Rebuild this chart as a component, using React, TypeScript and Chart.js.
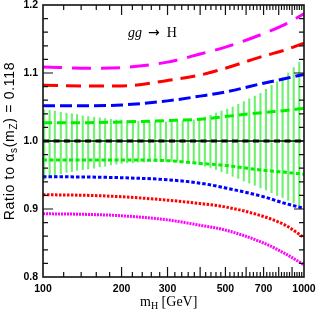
import React, { useEffect, useRef } from "react";
import { Chart, registerables } from "chart.js";
Chart.register(...registerables);

const MASS = [100, 150, 200, 300, 400, 500, 700, 850, 1000];
const MAGENTA_UP = [1.109, 1.107, 1.108, 1.116, 1.128, 1.138, 1.158, 1.172, 1.187];
const RED_UP = [1.082, 1.081, 1.081, 1.089, 1.097, 1.107, 1.125, 1.134, 1.144];
const BLUE_UP = [1.052, 1.052, 1.053, 1.059, 1.066, 1.072, 1.085, 1.092, 1.098];
const GREEN_UP = [1.027, 1.027, 1.028, 1.03, 1.032, 1.036, 1.042, 1.045, 1.048];
const CENTRAL_M = [100, 1000];
const CENTRAL = [1.0, 1.0];
const GREEN_DN = [0.972, 0.972, 0.972, 0.971, 0.967, 0.964, 0.957, 0.954, 0.951];
const BLUE_DN = [0.9475, 0.947, 0.946, 0.943, 0.938, 0.931, 0.918, 0.908, 0.901];
const RED_DN = [0.921, 0.92, 0.918, 0.913, 0.908, 0.903, 0.889, 0.876, 0.858];
const MAGENTA_DN = [0.893, 0.892, 0.89, 0.884, 0.876, 0.869, 0.85, 0.834, 0.818];

const BAND_M = [101, 106, 111, 117, 123, 129, 135, 142, 149, 157, 165, 173, 182, 191, 200, 210,
  221, 232, 244, 256, 269, 282, 296, 311, 327, 343, 360, 378, 397, 417, 438, 460, 483, 508, 533,
  560, 588, 617, 648, 681, 715, 751, 789, 828, 870, 913, 959];
const BAND_HI = [1.046, 1.045, 1.044, 1.042, 1.041, 1.04, 1.039, 1.037, 1.036, 1.035, 1.034, 1.033,
  1.032, 1.031, 1.031, 1.03, 1.03, 1.029, 1.029, 1.028, 1.028, 1.028, 1.028, 1.028, 1.029, 1.03,
  1.03, 1.031, 1.033, 1.035, 1.038, 1.041, 1.044, 1.047, 1.05, 1.054, 1.058, 1.062, 1.066, 1.07,
  1.076, 1.082, 1.087, 1.093, 1.1, 1.108, 1.116];
const BAND_LO = [0.943, 0.946, 0.949, 0.952, 0.954, 0.955, 0.957, 0.958, 0.959, 0.96, 0.962, 0.963,
  0.965, 0.966, 0.967, 0.968, 0.968, 0.969, 0.969, 0.97, 0.97, 0.97, 0.97, 0.97, 0.97, 0.969,
  0.968, 0.967, 0.965, 0.963, 0.961, 0.958, 0.955, 0.952, 0.948, 0.945, 0.941, 0.938, 0.935,
  0.931, 0.928, 0.924, 0.92, 0.917, 0.913, 0.909, 0.905];

const X_LABELS = [100, 200, 300, 500, 700, 1000];
const Y_LABELS = [0.8, 0.9, 1.0, 1.1, 1.2];
const X_MAJOR = [200, 300, 400, 500, 600, 700, 800, 900];
const Y_MAJOR = [0.9, 1.0, 1.1];

const TICK_FONT = '"Liberation Sans", Arial, sans-serif';

function pts(xs: number[], ys: number[]) {
  return xs.map((x, i) => ({ x, y: ys[i] }));
}

function lineDs(ys: number[], color: string, dash: number[], order: number, width = 3) {
  return {
    type: "line" as const,
    data: pts(MASS, ys),
    borderColor: color,
    borderWidth: width,
    borderDash: dash,
    borderCapStyle: "butt" as const,
    pointRadius: 0,
    fill: false,
    cubicInterpolationMode: "monotone" as const,
    order,
  };
}

const framePlugin = {
  id: "frameTicks",
  afterDraw(chart: any) {
    const { ctx, chartArea: a, scales } = chart;
    const xs = scales.x, ys = scales.y;
    ctx.save();
    ctx.strokeStyle = "#111";
    ctx.lineWidth = 1.2;
    const xMinor: number[] = [];
    for (let m = 120; m < 1000; m += 20) if (m % 100 !== 0) xMinor.push(m);
    const yMinor: number[] = [];
    for (let k = 41; k < 60; k++) if (k % 5 !== 0) yMinor.push(k * 0.02);
    ctx.beginPath();
    const vx = (m: number, len: number) => {
      const px = xs.getPixelForValue(m);
      ctx.moveTo(px, a.bottom);
      ctx.lineTo(px, a.bottom - len);
      ctx.moveTo(px, a.top);
      ctx.lineTo(px, a.top + len);
    };
    const hy = (v: number, len: number) => {
      const py = ys.getPixelForValue(v);
      ctx.moveTo(a.left, py);
      ctx.lineTo(a.left + len, py);
      ctx.moveTo(a.right, py);
      ctx.lineTo(a.right - len, py);
    };
    xMinor.forEach((m) => vx(m, 5));
    X_MAJOR.forEach((m) => vx(m, 10));
    yMinor.forEach((v) => hy(v, 5));
    Y_MAJOR.forEach((v) => hy(v, 10));
    ctx.stroke();
    ctx.lineWidth = 1.6;
    ctx.strokeRect(a.left, a.top, a.right - a.left, a.bottom - a.top);

    // Y title
    ctx.fillStyle = "#000";
    ctx.textBaseline = "alphabetic";
    const big = '14px "Liberation Sans", Arial, sans-serif';
    const small = '10px "Liberation Sans", Arial, sans-serif';
    const parts: [string, string, number][] = [
      ["Ratio to \u03b1", big, 0],
      ["s", small, 3],
      ["(m", big, 0],
      ["Z", small, 3],
      [") = 0.118", big, 0],
    ];
    ctx.save();
    (ctx as any).letterSpacing = "0.7px";
    let total = 0;
    parts.forEach(([t, f]) => { ctx.font = f; total += ctx.measureText(t).width; });
    ctx.translate(14, (a.top + a.bottom) / 2);
    ctx.rotate(-Math.PI / 2);
    let cx = -total / 2;
    parts.forEach(([t, f, dy]) => {
      ctx.font = f;
      ctx.fillText(t, cx, dy);
      cx += ctx.measureText(t).width;
    });
    ctx.restore();

    // X title
    const sBig = '14px "Liberation Serif", "DejaVu Serif", serif';
    const sSmall = '10px "Liberation Serif", "DejaVu Serif", serif';
    let tx = 140;
    const by = 306;
    ctx.font = sBig; ctx.fillText("m", tx, by); tx += ctx.measureText("m").width;
    ctx.font = sSmall; ctx.fillText("H", tx, by + 3); tx += ctx.measureText("H").width;
    ctx.font = sBig; ctx.fillText(" [GeV]", tx, by);

    // process label
    let gx = 128;
    const gy = 37;
    ctx.font = 'italic 14px "Liberation Serif", "DejaVu Serif", serif';
    ctx.fillText("gg", gx, gy); gx += ctx.measureText("gg").width + 6;
    ctx.font = '14px "DejaVu Sans", sans-serif';
    ctx.fillText("\u2192", gx, gy - 0.5); gx += ctx.measureText("\u2192").width + 7;
    ctx.font = '14px "Liberation Serif", "DejaVu Serif", serif';
    ctx.fillText("H", gx, gy);
    ctx.restore();
  },
};

export default function App() {
  const ref = useRef<HTMLCanvasElement | null>(null);
  useEffect(() => {
    document.body.style.margin = "0";
    const canvas = ref.current;
    if (!canvas) return;
    const chart = new Chart(canvas, {
      type: "line",
      data: {
        datasets: [
          {
            type: "bar" as const,
            data: BAND_M.map((m, i) => ({ x: m, y: [BAND_LO[i], BAND_HI[i]] })) as any,
            backgroundColor: "rgba(60,235,60,0.75)",
            borderWidth: 0,
            barThickness: 1.4,
            order: 100,
          } as any,
          lineDs(MAGENTA_UP, "#ff00ff", [19, 10], 5),
          lineDs(RED_UP, "#ff0000", [15, 8], 5),
          lineDs(BLUE_UP, "#0000ff", [12, 5], 5),
          lineDs(GREEN_UP, "#00f000", [9, 5], 5),
          {
            type: "line" as const,
            data: pts(CENTRAL_M, CENTRAL),
            borderColor: "#000",
            borderWidth: 1.4,
            pointRadius: 0,
            fill: false,
            order: 2,
          },
          {
            type: "line" as const,
            data: pts(CENTRAL_M, CENTRAL),
            borderColor: "#000",
            borderWidth: 3.2,
            borderDash: [6, 4.5],
            pointRadius: 0,
            fill: false,
            order: 1,
          },
          lineDs(GREEN_DN, "#00f000", [4, 2.5], 5),
          lineDs(BLUE_DN, "#0000ff", [3.5, 2], 5),
          lineDs(RED_DN, "#ff0000", [2.5, 1.5], 5),
          lineDs(MAGENTA_DN, "#ff00ff", [2, 1], 5),
        ] as any,
      },
      options: {
        animation: false,
        responsive: false,
        devicePixelRatio: 1,
        layout: { padding: { left: 0, top: 5, right: 14, bottom: 0 } },
        plugins: { legend: { display: false }, tooltip: { enabled: false } },
        scales: {
          x: {
            type: "logarithmic",
            min: 100,
            max: 1000,
            grid: { display: false, drawTicks: false },
            border: { display: false },
            ticks: {
              autoSkip: false,
              maxRotation: 0,
              padding: 6,
              color: "#000",
              font: { family: TICK_FONT, size: 10.5, weight: "bold" },
              callback: (v: any) => String(v),
            },
            afterBuildTicks: (s: any) => {
              s.ticks = X_LABELS.map((v) => ({ value: v }));
            },
            afterFit: (s: any) => {
              s.height = 35;
              s.paddingLeft = 0;
              s.paddingRight = 0;
            },
          },
          y: {
            type: "linear",
            min: 0.8,
            max: 1.2,
            grid: { display: false, drawTicks: false },
            border: { display: false },
            ticks: {
              padding: 5,
              color: "#000",
              font: { family: TICK_FONT, size: 10.5, weight: "bold" },
              callback: (v: any) => Number(v).toFixed(1),
            },
            afterBuildTicks: (s: any) => {
              s.ticks = Y_LABELS.map((v) => ({ value: v }));
            },
            afterFit: (s: any) => {
              s.width = 43;
              s.paddingTop = 0;
              s.paddingBottom = 0;
            },
          },
        },
      } as any,
      plugins: [framePlugin],
    });
    return () => chart.destroy();
  }, []);
  return (
    <div style={{ width: 318, height: 312 }}>
      <canvas ref={ref} width={318} height={312} style={{ display: "block" }} />
    </div>
  );
}
